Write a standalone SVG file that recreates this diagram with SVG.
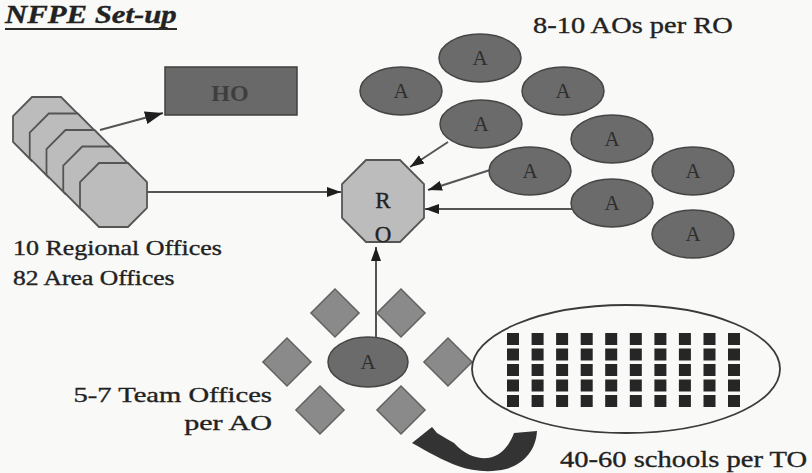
<svg xmlns="http://www.w3.org/2000/svg" width="812" height="473" viewBox="0 0 812 473">
  <style>
    .txt { font-family: "Liberation Serif", "Times New Roman", serif; fill: #222; stroke: #222; stroke-width: 0.35; }
    .ao { fill: #6b6b6b; stroke: #454545; stroke-width: 1.5; }
    .ao-t { font-family: "Liberation Serif", "Times New Roman", serif; font-size: 21px; fill: #2e2e2e; text-anchor: middle; }
    .oct { fill: #bcbcbc; stroke: #555; stroke-width: 1.8; }
    .to { fill: #8a8a8a; stroke: #626262; stroke-width: 1.5; }
    .sch { fill: #262626; }
    .link { stroke: #555; stroke-width: 2; fill: none; }
  </style>
  <defs>
    <marker id="head" viewBox="0 0 14 10" refX="14" refY="5" markerWidth="14" markerHeight="10" markerUnits="userSpaceOnUse" orient="auto">
      <path d="M0,0 L14,5 L0,10 Z" fill="#1e1e1e"/>
    </marker>
    <marker id="headL" viewBox="0 0 18 13" refX="18" refY="6.5" markerWidth="18" markerHeight="13" markerUnits="userSpaceOnUse" orient="auto">
      <path d="M0,0 L18,6.5 L0,13 Z" fill="#1e1e1e"/>
    </marker>
    <polygon id="octa" points="19,0 48,0 67,19 67,45 48,64 19,64 0,45 0,19"/>
    <rect id="dia" x="-17" y="-17" width="34" height="34" transform="rotate(45)"/>
    <ellipse id="aoe" rx="41" ry="24"/>
    <rect id="sq" width="12" height="12"/>
  </defs>

  <rect width="812" height="473" fill="#f9f9f7"/>

  <!-- title -->
  <g id="title">
    <text class="txt" transform="translate(5,23) scale(1.23,1)" font-size="25" font-weight="bold" font-style="italic">NFPE Set-up</text>
    <line x1="5" y1="29" x2="177" y2="29" stroke="#2a2a2a" stroke-width="2"/>
  </g>

  <!-- connectors -->
  <g id="connectors">
    <line class="link" x1="100" y1="130" x2="163" y2="113" marker-end="url(#headL)"/>
    <line class="link" x1="147" y1="192" x2="341" y2="192" marker-end="url(#head)"/>
    <line class="link" x1="448" y1="142" x2="410" y2="167" marker-end="url(#head)"/>
    <line class="link" x1="490" y1="170" x2="428" y2="190" marker-end="url(#head)"/>
    <line class="link" x1="572" y1="209" x2="425" y2="209" marker-end="url(#head)"/>
    <line class="link" x1="376" y1="337" x2="376" y2="247" marker-end="url(#head)"/>
  </g>

  <!-- stack of regional offices -->
  <g id="regional-offices" class="oct">
    <use href="#octa" x="13" y="97"/>
    <use href="#octa" x="29.75" y="113.5"/>
    <use href="#octa" x="46.5" y="130"/>
    <use href="#octa" x="63.25" y="146.5"/>
    <use href="#octa" x="80" y="163"/>
  </g>
  <g id="regional-label" class="txt" font-size="20">
    <text transform="translate(13,255) scale(1.30,1)">10 Regional Offices</text>
    <text transform="translate(13,285) scale(1.28,1)">82 Area Offices</text>
  </g>

  <!-- head office -->
  <g id="HO">
    <rect x="165" y="67" width="132" height="48" fill="#696969" stroke="#3f3f3f" stroke-width="1.5"/>
    <text class="txt" x="230" y="101" font-size="24" font-weight="bold" text-anchor="middle" style="fill:#3e3e3e;stroke:none">HO</text>
  </g>

  <!-- regional office -->
  <g id="RO">
    <polygon class="oct" points="366,160 400,160 424,184 424,218 400,242 366,242 342,218 342,184"/>
    <text class="txt" x="383" y="208" font-size="23" text-anchor="middle">R</text>
    <text class="txt" x="383" y="242" font-size="23" text-anchor="middle">O</text>
  </g>

  <!-- area offices per regional office -->
  <g id="area-offices">
    <g id="ao1"><use href="#aoe" class="ao" x="480" y="58"/><text class="ao-t" x="480" y="65">A</text></g>
    <g id="ao2"><use href="#aoe" class="ao" x="401" y="91"/><text class="ao-t" x="401" y="98">A</text></g>
    <g id="ao3"><use href="#aoe" class="ao" x="563" y="91"/><text class="ao-t" x="563" y="98">A</text></g>
    <g id="ao4"><use href="#aoe" class="ao" x="481" y="124"/><text class="ao-t" x="481" y="131">A</text></g>
    <g id="ao5"><use href="#aoe" class="ao" x="612" y="139"/><text class="ao-t" x="612" y="146">A</text></g>
    <g id="ao6"><use href="#aoe" class="ao" x="530" y="171"/><text class="ao-t" x="530" y="178">A</text></g>
    <g id="ao7"><use href="#aoe" class="ao" x="693" y="171"/><text class="ao-t" x="693" y="178">A</text></g>
    <g id="ao8"><use href="#aoe" class="ao" x="612" y="203"/><text class="ao-t" x="612" y="210">A</text></g>
    <g id="ao9"><use href="#aoe" class="ao" x="693" y="234"/><text class="ao-t" x="693" y="241">A</text></g>
  </g>
  <text id="ao-label" class="txt" transform="translate(533,33) scale(1.236,1)" font-size="23">8-10 AOs per RO</text>

  <!-- team offices around one area office -->
  <g id="team-offices" class="to">
    <use href="#dia" x="335" y="313"/>
    <use href="#dia" x="401" y="313"/>
    <use href="#dia" x="287" y="362"/>
    <use href="#dia" x="448" y="362"/>
    <use href="#dia" x="320" y="410"/>
    <use href="#dia" x="401" y="410"/>
  </g>
  <g id="ao-bottom">
    <ellipse class="ao" cx="368" cy="362" rx="40" ry="25"/>
    <text class="ao-t" x="368" y="369">A</text>
  </g>
  <g id="to-label" class="txt" font-size="22" text-anchor="end">
    <text transform="translate(272,402) scale(1.30,1)">5-7 Team Offices</text>
    <text transform="translate(272,430) scale(1.37,1)">per AO</text>
  </g>

  <!-- schools per team office -->
  <g id="schools">
    <ellipse cx="626" cy="369" rx="154" ry="64" fill="none" stroke="#3a3a3a" stroke-width="1.8"/>
    <g class="sch">
      <use href="#sq" x="507" y="333"/><use href="#sq" x="507" y="348.5"/><use href="#sq" x="507" y="364"/><use href="#sq" x="507" y="379.5"/><use href="#sq" x="507" y="395"/>
      <use href="#sq" x="531.6" y="333"/><use href="#sq" x="531.6" y="348.5"/><use href="#sq" x="531.6" y="364"/><use href="#sq" x="531.6" y="379.5"/><use href="#sq" x="531.6" y="395"/>
      <use href="#sq" x="556.1" y="333"/><use href="#sq" x="556.1" y="348.5"/><use href="#sq" x="556.1" y="364"/><use href="#sq" x="556.1" y="379.5"/><use href="#sq" x="556.1" y="395"/>
      <use href="#sq" x="580.7" y="333"/><use href="#sq" x="580.7" y="348.5"/><use href="#sq" x="580.7" y="364"/><use href="#sq" x="580.7" y="379.5"/><use href="#sq" x="580.7" y="395"/>
      <use href="#sq" x="605.2" y="333"/><use href="#sq" x="605.2" y="348.5"/><use href="#sq" x="605.2" y="364"/><use href="#sq" x="605.2" y="379.5"/><use href="#sq" x="605.2" y="395"/>
      <use href="#sq" x="629.8" y="333"/><use href="#sq" x="629.8" y="348.5"/><use href="#sq" x="629.8" y="364"/><use href="#sq" x="629.8" y="379.5"/><use href="#sq" x="629.8" y="395"/>
      <use href="#sq" x="654.4" y="333"/><use href="#sq" x="654.4" y="348.5"/><use href="#sq" x="654.4" y="364"/><use href="#sq" x="654.4" y="379.5"/><use href="#sq" x="654.4" y="395"/>
      <use href="#sq" x="678.9" y="333"/><use href="#sq" x="678.9" y="348.5"/><use href="#sq" x="678.9" y="364"/><use href="#sq" x="678.9" y="379.5"/><use href="#sq" x="678.9" y="395"/>
      <use href="#sq" x="703.5" y="333"/><use href="#sq" x="703.5" y="348.5"/><use href="#sq" x="703.5" y="364"/><use href="#sq" x="703.5" y="379.5"/><use href="#sq" x="703.5" y="395"/>
      <use href="#sq" x="728" y="333"/><use href="#sq" x="728" y="348.5"/><use href="#sq" x="728" y="364"/><use href="#sq" x="728" y="379.5"/><use href="#sq" x="728" y="395"/>
    </g>
  </g>
  <text id="schools-label" class="txt" transform="translate(560,467) scale(1.19,1)" font-size="24">40-60 schools per TO</text>

  <!-- curved return arrow: thick U-shaped band sweeping down and back left into a barbed head -->
  <path id="curved-arrow" d="M412,443 L432,427 L437,433 L447,439 L454,443 C465,455 477,459 488,458 C501,456 509,446 514,433 L537,431 C536,450 524,464 506,469 C490,473 472,471 458,466 C444,461 428,452 412,443 Z" fill="#333"/>
</svg>
